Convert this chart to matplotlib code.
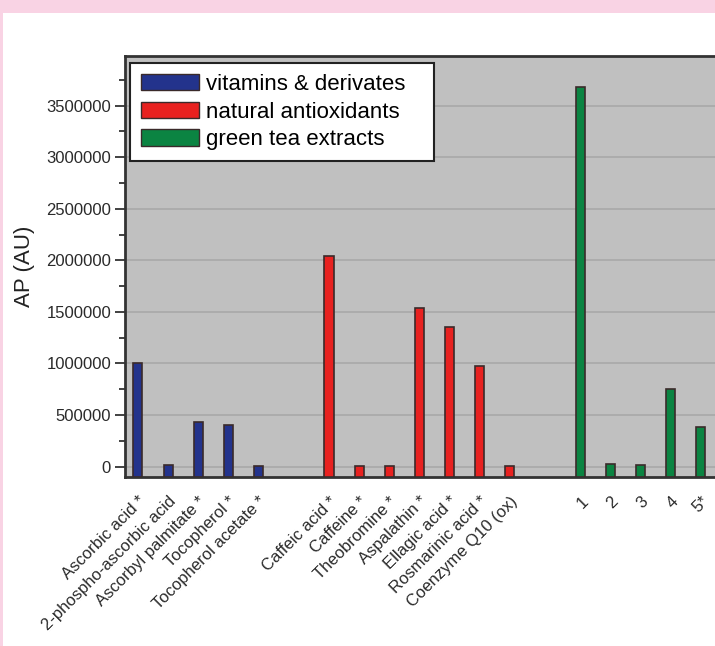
import matplotlib
matplotlib.use("Agg")
from matplotlib import pyplot
import matplotlib.ticker as ticker
from matplotlib.patches import Rectangle, Patch
import numpy

pyplot.rcParams['font.family'] = ['Liberation Sans', 'DejaVu Sans']

# vitamins & derivates
vit_names = ['Ascorbic acid *', '2-phospho-ascorbic acid', 'Ascorbyl palmitate *',
             'Tocopherol *', 'Tocopherol acetate *']
vit_ap = [1000000, 15000, 436000, 407000, 6000]

# natural antioxidants
nat_names = ['Caffeic acid *', 'Caffeine *', 'Theobromine *', 'Aspalathin *',
             'Ellagic acid *', 'Rosmarinic acid *', 'Coenzyme Q10 (ox)']
nat_ap = [2040000, 2000, 2000, 1533000, 1352000, 977000, 2000]

# green tea extracts
tea_names = ['1', '2', '3', '4', '5*']
tea_ap = [3680000, 30000, 12000, 753000, 381000]

groups = [
    (vit_names, vit_ap, '#23338C', 'vitamins & derivates'),
    (nat_names, nat_ap, '#E8211F', 'natural antioxidants'),
    (tea_names, tea_ap, '#0B8442', 'green tea extracts'),
]

fig = pyplot.figure(figsize=(7.15, 6.46), dpi=100)
fig.patch.set_facecolor('#F9D3E4')
# white panel
fig.patches.append(Rectangle((3 / 715, 0), 1, 1 - 13 / 646, transform=fig.transFigure,
                             facecolor='white', edgecolor='none', zorder=-10))

ax = fig.add_axes([125 / 715, 1 - 477 / 646, 640 / 715, 421 / 646])
ax.set_facecolor('#C0C0C0')

ymin, ymax = -100000, 3980000
gap = 7 / 3
pos, labels = [], []
start = 0.0
for names, vals, color, lab in groups:
    x = start + numpy.arange(len(vals))
    ax.bar(x, numpy.array(vals) - ymin, bottom=ymin, width=0.3, color=color,
           edgecolor='#3A2A2A', linewidth=1.2, zorder=3)
    pos.extend(x)
    labels.extend(names)
    start = x[-1] + gap

ax.set_xlim(-0.43, 20.79)
ax.set_ylim(ymin, ymax)

ax.yaxis.set_major_locator(ticker.MultipleLocator(500000))
ax.yaxis.set_minor_locator(ticker.MultipleLocator(250000))
ax.yaxis.set_major_formatter(ticker.FuncFormatter(lambda v, p: '%d' % v))
ax.tick_params(axis='y', which='major', labelsize=12, length=7, width=1.3,
               color='#333333', labelcolor='#2A2A2A', pad=3)
ax.tick_params(axis='y', which='minor', length=4, width=1.3, color='#333333')
ax.grid(axis='y', which='major', color='#A9A9A9', linewidth=1.2, zorder=1)
ax.set_axisbelow(True)

ax.set_xticks(pos)
ax.set_xticklabels(labels, rotation=45, ha='right', rotation_mode='anchor',
                   fontsize=12, color='#2A2A2A')
ax.tick_params(axis='x', length=0, pad=12)

for s in ax.spines.values():
    s.set_linewidth(2.0)
    s.set_color('#333333')

ax.set_ylabel('AP (AU)', fontsize=16, color='#222222', labelpad=8)

handles = [Patch(facecolor=c, edgecolor='#3A2A2A', label=l) for _, _, c, l in groups]
leg = ax.legend(handles=handles, loc='upper left', mode='expand',
                bbox_to_anchor=(0.008, 0.0, 0.475, 0.984),
                fontsize=16, frameon=True, fancybox=False, handlelength=2.6,
                handleheight=0.75, handletextpad=0.3, labelspacing=0.3,
                borderpad=0.5, borderaxespad=0)
leg.get_frame().set_edgecolor('#222222')
leg.get_frame().set_linewidth(1.5)
leg.get_frame().set_facecolor('white')
leg.get_frame().set_alpha(1)

fig.savefig('out.png', dpi=100, facecolor=fig.get_facecolor())
